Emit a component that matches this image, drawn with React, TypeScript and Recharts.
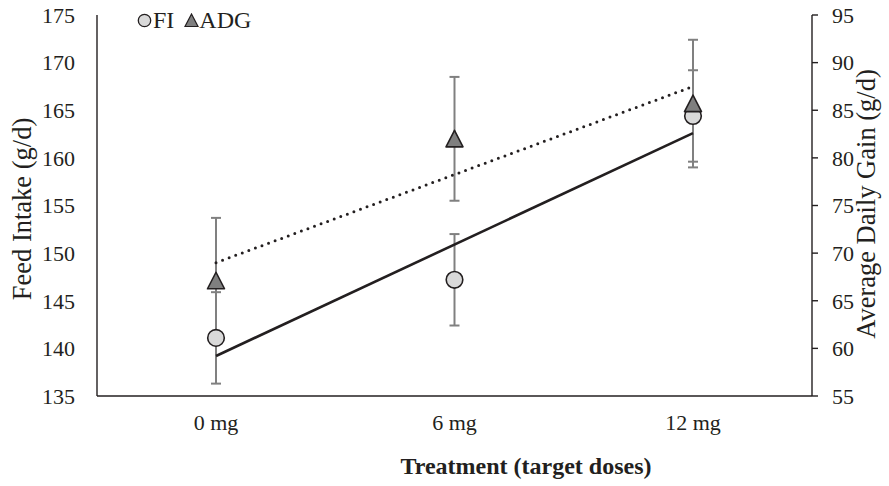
import React from 'react';
import { ComposedChart, XAxis, YAxis, Scatter, Line, ErrorBar } from 'recharts';

// values
const doses = ['0 mg', '6 mg', '12 mg'];
const fiMeans = [141.1, 147.2, 164.4];
const fiSe = [4.8, 4.8, 4.8];
const adgMeans = [67.1, 82.0, 85.7];
const adgSe = [6.6, 6.5, 6.7];
// linear trend lines, only the two ends are drawn
const fiTrend = [139.2, null, 162.6];
const adgTrend = [69.0, null, 87.5];
const fiTicks = [135, 140, 145, 150, 155, 160, 165, 170, 175];
const adgTicks = [55, 60, 65, 70, 75, 80, 85, 90, 95];

const data = doses.map((dose, i) => ({
  dose,
  fi: fiMeans[i],
  fiErr: fiSe[i],
  adg: adgMeans[i],
  adgErr: adgSe[i],
  fiTrend: fiTrend[i],
  adgTrend: adgTrend[i],
}));

const INK = '#231f20';
const SERIF = '"Liberation Serif", "Times New Roman", serif';

const CircleMark = (props: any) => (
  <circle cx={props.cx} cy={props.cy} r={8.3} fill="#d9d9d9" stroke={INK} strokeWidth={1.6} />
);

const TriangleMark = (props: any) => {
  const { cx, cy } = props;
  return (
    <polygon
      points={`${cx},${cy - 8.5} ${cx - 8.5},${cy + 8} ${cx + 8.5},${cy + 8}`}
      fill="#7f7f7f"
      stroke={INK}
      strokeWidth={1.6}
      strokeLinejoin="round"
    />
  );
};

// rotated axis title
const VTitle = ({ tx, ty, text }: { tx: number; ty: number; text: string }) => (
  <text
    x={tx}
    y={ty}
    transform={`rotate(-90, ${tx}, ${ty})`}
    textAnchor="middle"
    dominantBaseline="central"
    fontFamily={SERIF}
    fontSize={26.5}
    fill={INK}
  >
    {text}
  </text>
);

const XTitle = ({ tx, ty, text }: { tx: number; ty: number; text: string }) => (
  <text
    x={tx}
    y={ty}
    textAnchor="middle"
    dominantBaseline="central"
    fontFamily={SERIF}
    fontSize={24}
    fontWeight="bold"
    fill={INK}
  >
    {text}
  </text>
);

// legend drawn over the plot, top left
const LegendBox = () => (
  <div
    style={{
      position: 'absolute',
      left: 137,
      top: 8,
      display: 'flex',
      alignItems: 'center',
      fontFamily: SERIF,
      fontSize: 24,
      color: INK,
      lineHeight: 1,
      whiteSpace: 'nowrap',
    }}
  >
    <svg width={15} height={15} style={{ marginRight: 1 }}>
      <circle cx={7.5} cy={7.5} r={6.2} fill="#d9d9d9" stroke={INK} strokeWidth={1.3} />
    </svg>
    <span>FI</span>
    <svg width={15} height={15} style={{ marginLeft: 10, marginRight: 0 }}>
      <polygon points="7.5,1 1,13.5 14,13.5" fill="#7f7f7f" stroke={INK} strokeWidth={1.2} />
    </svg>
    <span>ADG</span>
  </div>
);

const tickStyle = { fontFamily: SERIF, fontSize: 22, fill: INK };

export default function App() {
  return (
    <div style={{ position: 'absolute', left: 0, top: 0, width: 889, height: 486, background: '#fff' }}>
      <ComposedChart
        width={889}
        height={486}
        data={data}
        margin={{ top: 15, right: 0, bottom: 0, left: 0 }}
      >
        <XAxis
          dataKey="dose"
          height={90}
          padding={{ left: 119, right: 119 }}
          tickLine={false}
          tickSize={0}
          tickMargin={18}
          tick={tickStyle}
          axisLine={{ stroke: INK, strokeWidth: 1.4 }}
          label={<XTitle tx={526} ty={466} text="Treatment (target doses)" />}
        />
        <YAxis
          yAxisId="left"
          width={97}
          domain={[135, 175]}
          ticks={fiTicks}
          tickLine={false}
          tickSize={0}
          tickMargin={22}
          tick={tickStyle}
          axisLine={{ stroke: INK, strokeWidth: 1.4 }}
          label={<VTitle tx={22} ty={209} text="Feed Intake (g/d)" />}
        />
        <YAxis
          yAxisId="right"
          orientation="right"
          width={77}
          domain={[55, 95]}
          ticks={adgTicks}
          tickSize={6}
          tickMargin={14}
          tickLine={{ stroke: INK, strokeWidth: 1.4 }}
          tick={{ ...tickStyle, textAnchor: 'start' }}
          axisLine={{ stroke: INK, strokeWidth: 1.4 }}
          label={<VTitle tx={866} ty={204} text="Average Daily Gain (g/d)" />}
        />
        <Scatter
          name="FI"
          yAxisId="left"
          dataKey="fi"
          shape={CircleMark}
          isAnimationActive={false}
        >
          <ErrorBar dataKey="fiErr" direction="y" width={5} stroke="#808080" strokeWidth={2} />
        </Scatter>
        <Scatter
          name="ADG"
          yAxisId="right"
          dataKey="adg"
          shape={TriangleMark}
          isAnimationActive={false}
        >
          <ErrorBar dataKey="adgErr" direction="y" width={5} stroke="#808080" strokeWidth={2} />
        </Scatter>
        <Line
          yAxisId="left"
          dataKey="fiTrend"
          connectNulls
          dot={false}
          activeDot={false}
          stroke={INK}
          strokeWidth={2.6}
          legendType="none"
          isAnimationActive={false}
        />
        <Line
          yAxisId="right"
          dataKey="adgTrend"
          connectNulls
          dot={false}
          activeDot={false}
          stroke={INK}
          strokeWidth={3}
          strokeDasharray="0 7"
          strokeLinecap="round"
          legendType="none"
          isAnimationActive={false}
        />
      </ComposedChart>
      <LegendBox />
    </div>
  );
}
